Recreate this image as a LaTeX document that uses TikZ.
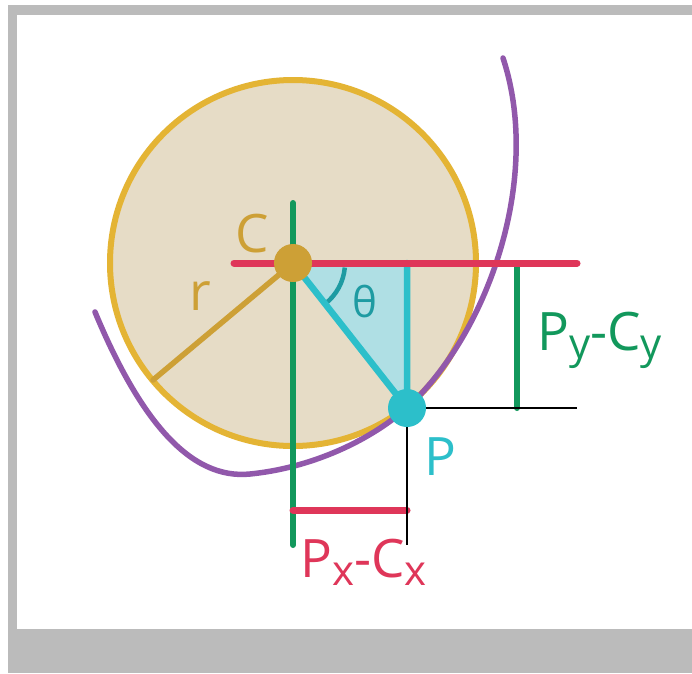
\documentclass[tikz,border=0pt]{standalone}
\usepackage{fontspec}
\newfontfamily\lblfont{Open Sans}
\definecolor{discfill}{HTML}{E6DCC6}
\definecolor{discline}{HTML}{E4B434}
\definecolor{cgold}{HTML}{CDA036}
\definecolor{lgreen}{HTML}{12985C}
\definecolor{lred}{HTML}{DF3659}
\definecolor{lcyan}{HTML}{2CBFCA}
\definecolor{tfill}{HTML}{AFDFE4}
\definecolor{tdark}{HTML}{1E9BA2}
\definecolor{lpurple}{HTML}{9158AB}
\definecolor{framegray}{HTML}{BBBBBB}
\newcommand\lowsub[1]{\raisebox{-8pt}{\fontsize{42}{42}\selectfont #1}}

\begin{document}
\begin{tikzpicture}[x=1pt, y=-1pt, line cap=round,
		lbl/.style={font=\lblfont\fontsize{53}{53}\selectfont, inner sep=0pt},
		dot/.style={circle, inner sep=0pt, minimum size=38pt}]
	\useasboundingbox (0,0) rectangle (692,673);
	\fill[framegray] (8,5) rectangle (692,673);
	\fill[white] (17,15) rectangle (692,629);
	\coordinate (C) at (293,263);
	\coordinate (P) at (407,408);
	\coordinate (Q) at (407,263);
	\coordinate (R) at (153,380);
	\coordinate (gtop) at (293,203);
	\coordinate (gbot) at (293,545);
	\coordinate (hleft) at (234,263);
	\coordinate (hright) at (577,263);
	\coordinate (dytop) at (517,263);
	\coordinate (dybot) at (517,408);
	\coordinate (dxleft) at (293,510);
	\coordinate (dxright) at (407,510);
	\coordinate (pright) at (577,408);
	\coordinate (pbot) at (407,545);
	\filldraw[fill=discfill, draw=discline, line width=6pt] (C) circle[radius=183];
	\fill[tfill] (C) -- (Q) -- (P) -- cycle;
	\draw[lpurple, line width=5.5pt] (95,312) .. controls (140,420) and (190,480) .. (250,474)
		.. controls (320,467) and (385,433) .. (420,395)
		.. controls (495,315) and (540,170) .. (503,58);
	\draw[tdark, line width=4.5pt, line cap=butt] (C) ++(5:52) arc[start angle=5, end angle=51.8, radius=52];
	\draw[lcyan, line width=6.5pt] (C) -- (P) (Q) -- (P);
	\draw[lgreen, line width=6pt] (gtop) -- (gbot) (dytop) -- (dybot);
	\draw[lred, line width=7pt] (hleft) -- (hright) (dxleft) -- (dxright);
	\draw[black, line width=2pt, line cap=butt] (P) -- (pright) (P) -- (pbot);
	\draw[cgold, line width=5.5pt] (C) -- (R);
	\node[dot, fill=cgold] (cdot) at (C) {};
	\node[dot, fill=lcyan] (pdot) at (P) {};
	\node[lbl, text=cgold, anchor=base west] (clabel) at (235,252) {C};
	\node[lbl, text=cgold, anchor=base] (rlabel) at (200,310) {r};
	\node[lbl, text=tdark, font=\lblfont\fontsize{42}{42}\selectfont] (thlabel) at (365,302) {θ};
	\node[lbl, text=lcyan, anchor=base west] (plabel) at (424,475) {P};
	\node[lbl, text=lgreen, anchor=base west] (dylabel) at (537,350) {P\lowsub{y}-C\lowsub{y}};
	\node[lbl, text=lred, anchor=base west] (dxlabel) at (300,577) {P\lowsub{x}-C\lowsub{x}};
\end{tikzpicture}
\end{document}
